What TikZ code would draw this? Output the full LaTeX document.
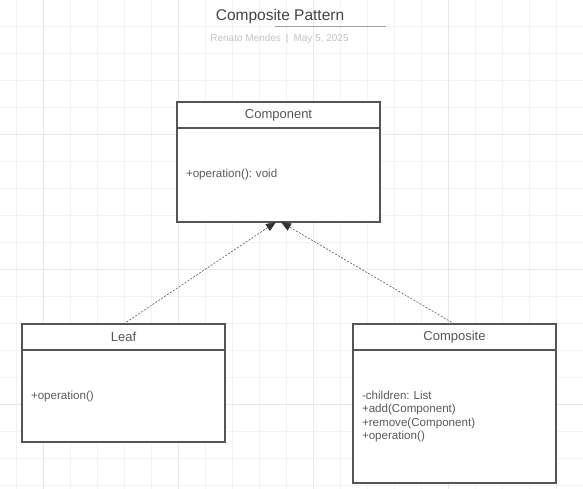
\documentclass[tikz,border=0pt]{standalone}
\usepackage{fontspec}
\setmainfont{Liberation Sans}
\usetikzlibrary{positioning}
\usetikzlibrary{arrows.meta}
\definecolor{gridminor}{HTML}{F3F3F3}
\definecolor{gridmajor}{HTML}{E8E8E8}
\definecolor{boxline}{HTML}{555555}
\definecolor{headtext}{HTML}{555555}
\definecolor{bodytext}{HTML}{5A5A5A}
\definecolor{titletext}{HTML}{444444}
\definecolor{subtext}{HTML}{C4C4C8}
\definecolor{tiphead}{HTML}{333333}
\frenchspacing

\begin{document}
\begin{tikzpicture}[x=1pt,y=-1pt,
    classhead/.style={draw=boxline,line width=1.1pt,fill=white,outer sep=0pt,inner sep=0pt,
      minimum width=203pt,minimum height=26pt,text=headtext,font=\fontsize{13}{15}\selectfont},
    classbody/.style={draw=boxline,line width=1.1pt,fill=white,outer sep=0pt,inner xsep=9pt,inner ysep=0pt,
      text width=185pt,align=left,text=bodytext,font=\fontsize{11.6}{13.5}\selectfont},
    realize/.style={draw=bodytext,line width=0.6pt,dash pattern=on 2pt off 1.5pt,
      -{Triangle[length=10pt,width=8pt,color=tiphead]}}]
            \useasboundingbox (0,0) rectangle (583,489);
            \fill[white] (0,0) rectangle (583,489);
            \foreach \i in {0,...,21}
              \draw[gridminor,line width=0.8pt] ({16+27*\i},0) -- ++(0,489);
            \foreach \j in {0,...,17}
              \draw[gridminor,line width=0.8pt] (0,{26+27*\j}) -- ++(583,0);
            \foreach \i in {0,...,3}
              \draw[gridmajor,line width=0.8pt] ({43+135*\i},0) -- ++(0,489);
            \foreach \j in {0,...,2}
              \draw[gridmajor,line width=0.8pt] (0,{134+135*\j}) -- ++(583,0);

            \node[font=\fontsize{15.5}{18}\selectfont,text=titletext] (title) at (280,16) {Composite Pattern};
            \draw[gray!75,line width=1pt] (275,26.7) -- (386,26.7);
            \node[font=\fontsize{10}{12}\selectfont,text=subtext] (byline) at (279.5,38.5)
              {Renato Mendes\enspace|\enspace May 5, 2025};

            \node[classhead,anchor=north west] (component) at (177,102) {Component};
            \node[classbody,below=0pt of component,minimum height=94pt] (componentbody) {+operation(): void};
            \node[classhead,anchor=north west] (leaf) at (22,324) {Leaf};
            \node[classbody,below=0pt of leaf,minimum height=92pt] (leafbody) {+operation()};
            \node[classhead,anchor=north west] (composite) at (353,324) {Composite};
            \node[classbody,below=0pt of composite,minimum height=133pt] (compositebody)
              {-children: List\\+add(Component)\\+remove(Component)\\+operation()};

            \draw[realize] (leaf.north) -- ([xshift=-2.5pt]componentbody.south);
            \draw[realize] (composite.north) -- ([xshift=2.5pt]componentbody.south);
          \end{tikzpicture}
\end{document}
